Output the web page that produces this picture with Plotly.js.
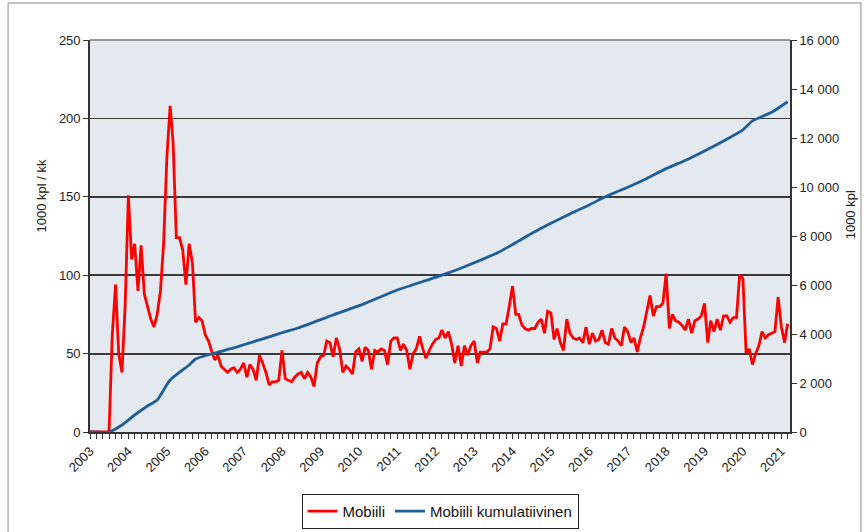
<!DOCTYPE html>
<html>
<head>
<meta charset="utf-8">
<script src="https://cdn.plot.ly/plotly-3.0.1.min.js"></script>
<style>html,body{margin:0;padding:0;background:#fff}#chart{width:866px;height:532px}</style>
</head>
<body>
<div id="chart"></div>
<script>
// Monthly values, Mobiili (1000 kpl / kk), from 2003-01 to 2021-03
const startYear = 2003;
const mobiili = [
  0,0,0,0,0,0,0,62,94,50,38,80,            // 2003
  151,110,120,90,119,88,80,72,67,75,90,120, // 2004
  175,208,185,124,124,116,94,120,108,70,73,71, // 2005
  62,58,52,46,49,42,40,38,40,41,38,40,      // 2006
  44,35,43,40,33,49,44,38,30,32,32,33,      // 2007
  52,34,33,32,35,37,38,34,38,35,29,44,      // 2008
  48,49,58,57,48,60,53,38,42,40,37,51,      // 2009
  53,45,54,52,40,52,51,53,52,43,58,60,      // 2010
  60,52,56,52,40,50,53,61,53,47,52,56,      // 2011
  59,60,65,60,64,56,44,55,42,55,49,55,      // 2012
  58,44,51,51,51,53,67,66,58,69,69,80,      // 2013
  93,75,75,68,66,65,66,66,70,72,63,77,      // 2014
  76,59,66,57,52,72,63,60,59,60,57,67,      // 2015
  56,63,58,59,65,57,56,66,60,58,55,67,      // 2016
  64,57,60,51,60,67,78,87,74,80,80,82,      // 2017
  101,66,75,71,70,68,65,72,63,71,72,74,     // 2018
  82,57,71,64,72,65,74,74,70,73,73,100,     // 2019
  98,50,53,43,50,55,64,60,62,63,64,86,      // 2020
  67,57,69                                  // 2021
];

// Mobiili kumulatiivinen (1000 kpl)
const kumDates = ['2003-01-01','2003-07-01','2003-11-01','2004-03-01','2004-07-01','2004-10-01',
  '2005-02-01','2005-08-01','2005-10-01','2006-03-01','2006-09-01','2007-01-01','2007-07-01',
  '2008-01-01','2008-06-01','2009-05-01','2010-03-01','2011-01-01','2011-12-01','2012-03-01',
  '2012-10-01','2013-09-01','2014-01-01','2014-07-01','2015-01-01','2015-07-01','2016-01-01',
  '2016-06-01','2017-01-01','2017-07-01','2018-01-01','2018-07-01','2019-01-01','2019-08-01',
  '2020-01-01','2020-04-01','2020-10-01','2021-03-01'];
const kumValues = [0,0,286,694,1061,1306,2122,2734,2979,3184,3400,3560,3800,
  4050,4245,4775,5252,5796,6272,6405,6746,7360,7650,8100,8520,8900,9270,
  9600,9990,10350,10750,11080,11470,11950,12330,12700,13050,13480];

const yearLabels = ['2003','2004','2005','2006','2007','2008','2009','2010','2011','2012',
  '2013','2014','2015','2016','2017','2018','2019','2020','2021'];
const leftTicks = [0,50,100,150,200,250];
const rightTicks = [0,2000,4000,6000,8000,10000,12000,14000,16000];
const rightTickText = ['0','2 000','4 000','6 000','8 000','10 000','12 000','14 000','16 000'];

const months = mobiili.map((v,i) => {
  const y = startYear + Math.floor(i/12), m = (i%12)+1;
  return y + '-' + String(m).padStart(2,'0') + '-01';
});
const yearTickVals = yearLabels.map(y => y + '-01-01');

const font = 'Liberation Sans, Arial, sans-serif';
const traces = [
  {x: months, y: mobiili, type:'scatter', mode:'lines', name:'Mobiili',
   line:{color:'#ff0000', width:2.8}, yaxis:'y'},
  {x: kumDates, y: kumValues, type:'scatter', mode:'lines', name:'Mobiili kumulatiivinen',
   line:{color:'#1f5e96', width:2.8, shape:'spline', smoothing:0.6}, yaxis:'y2'}
];

const layout = {
  width:866, height:532,
  margin:{l:90, r:76, t:40, b:100, autoexpand:false},
  paper_bgcolor:'#ffffff', plot_bgcolor:'#e4e9f0',
  font:{family:font, size:13, color:'#222'},
  showlegend:true,
  legend:{orientation:'h', x:0.5, xanchor:'center', y:-0.158, yanchor:'top',
    bordercolor:'#222', borderwidth:1, bgcolor:'#fff', font:{size:15, color:'#111'},
    itemwidth:30, tracegroupgap:0},
  xaxis:{type:'date', range:['2003-01-01','2021-03-24'], automargin:false,
    tickvals: yearTickVals, ticktext: yearLabels, tickangle:-45,
    ticks:'outside', ticklen:5, tickcolor:'#333', tickfont:{size:13},
    minor:{dtick:'M2', tick0:'2003-01-01', ticks:'outside', ticklen:5, tickcolor:'#333', showgrid:false},
    showgrid:false, showline:true, linecolor:'#333', linewidth:1.5, mirror:false, zeroline:false},
  yaxis:{range:[0,250], tickvals:leftTicks, ticks:'outside', ticklen:5, tickcolor:'#333', automargin:false,
    showgrid:true, gridcolor:'#3a3a3a', gridwidth:1.8, showline:true, linecolor:'#333', linewidth:1.8,
    zeroline:false, tickfont:{size:13}},
  yaxis2:{range:[0,16000], tickvals:rightTicks, ticktext:rightTickText, overlaying:'y', side:'right',
    automargin:false,
    ticks:'outside', ticklen:5, tickcolor:'#333', showgrid:false, showline:true, linecolor:'#333',
    linewidth:1.8, zeroline:false, tickfont:{size:13}},
  annotations:[
    {text:'1000 kpl / kk', xref:'paper', yref:'paper', x:-0.083, y:0.602, textangle:-90,
     showarrow:false, font:{size:13, color:'#222'}},
    {text:'1000 kpl', xref:'paper', yref:'paper', x:1.1, y:0.554, textangle:-90,
     showarrow:false, font:{size:13, color:'#222'}}
  ],
  shapes:[
    {type:'line', xref:'paper', yref:'paper', x0:0, x1:1, y0:1, y1:1, line:{color:'#777', width:1.5}},
    {type:'rect', xref:'paper', yref:'paper', x0:-0.117, x1:1.1014, y0:-0.3, y1:1.0944,
     line:{color:'#888', width:1}, layer:'below'}
  ]
};

Plotly.newPlot('chart', traces, layout, {displayModeBar:false, staticPlot:true});
</script>
</body>
</html>
